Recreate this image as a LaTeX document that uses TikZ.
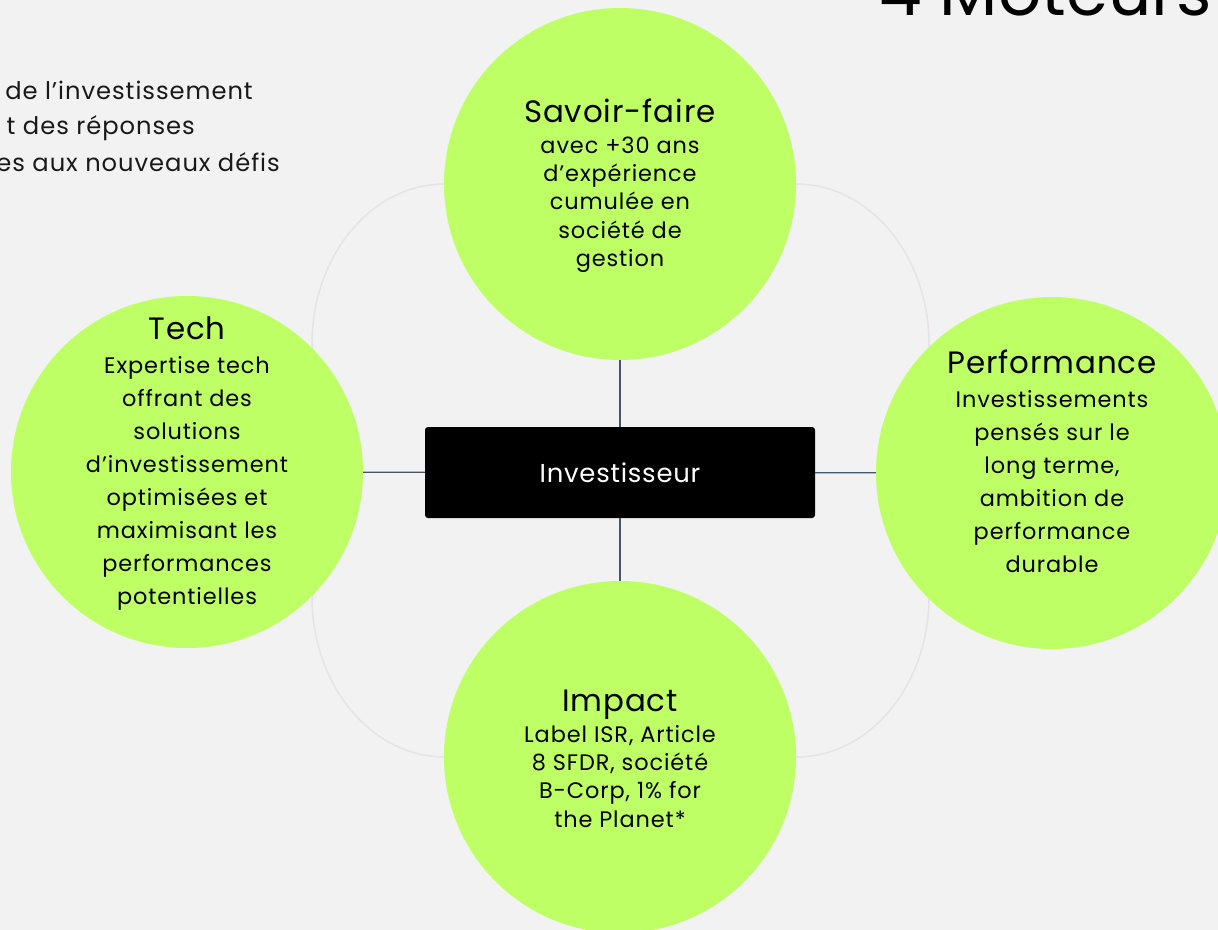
\documentclass[tikz,border=0pt]{standalone}
\usepackage{fontspec}
\setmainfont{Poppins}
\definecolor{bgc}{HTML}{F2F2F2}
\definecolor{lime}{HTML}{BFFF66}
\definecolor{slate}{HTML}{44546A}
\definecolor{ringc}{HTML}{E4E4E4}
\newcommand{\lspc}[1]{\addfontfeature{LetterSpace=#1}}
\tikzset{
  bubble/.style={circle, fill=lime, draw=none, minimum size=352bp, inner sep=0pt},
  hub/.style={rectangle, fill=black, rounded corners=3bp, minimum width=390bp, minimum height=91bp, inner sep=0pt, text=white, font=\fontsize{26}{30}\selectfont\lspc{3}},
  link/.style={draw=slate, line width=1.3bp},
  ring/.style={draw=ringc, line width=1.5bp},
  ttl/.style={anchor=base, inner sep=0pt, font=\fontsize{31}{36}\selectfont\lspc{3}},
  bodytext/.style={anchor=base, inner sep=0pt},
  intro/.style={anchor=base east, inner sep=0pt, font=\fontsize{24.3}{36}\selectfont\lspc{4}, text=black!90}
}
\newcommand{\bodyA}[1]{\fontsize{22.5}{28.6}\selectfont\lspc{4}\begin{tabular}[t]{@{}c@{}}#1\end{tabular}}
\newcommand{\bodyB}[1]{\fontsize{22.5}{33.2}\selectfont\lspc{4}\begin{tabular}[t]{@{}c@{}}#1\end{tabular}}
\begin{document}
\begin{tikzpicture}[x=1bp,y=-1bp]
\useasboundingbox (0,0) rectangle (1218,930);
\clip (0,0) rectangle (1218,930);
\fill[bgc] (0,0) rectangle (1218,930);
% faint ring behind the bubbles
\draw[ring] (445,184) -- (796,184)
  arc[start angle=270, end angle=360, x radius=133, y radius=160]
  -- (929,597)
  arc[start angle=0, end angle=90, x radius=133, y radius=160]
  -- (445,757)
  arc[start angle=90, end angle=180, x radius=133, y radius=160]
  -- (312,344)
  arc[start angle=180, end angle=270, x radius=133, y radius=160]
  -- cycle;
\node[bubble] (savoir) at (620,184) {};
\node[bubble] (tech) at (187,472) {};
\node[bubble] (perf) at (1052,473) {};
\node[bubble] (impact) at (620,757) {};
\node[hub] (inv) at (620,472.5) {Investisseur};
\draw[link] (savoir) -- (inv);
\draw[link] (inv) -- (impact);
\draw[link] (tech) -- (inv);
\draw[link] (inv) -- (perf);
% titles
\node[ttl] (savoirT) at (620,122) {Savoir-faire};
\node[ttl] (techT) at (187,339) {Tech};
\node[ttl] (perfT) at (1052,373) {Performance};
\node[ttl] (impactT) at (620,711) {Impact};
% bodies
\node[bodytext] (savoirB) at (620,153) {\bodyA{avec +30 ans\\d’expérience\\cumulée en\\société de\\gestion}};
\node[bodytext] (techB) at (187,373) {\bodyB{Expertise tech\\offrant des\\solutions\\d’investissement\\optimisées et\\maximisant les\\performances\\potentielles}};
\node[bodytext] (perfB) at (1052,407) {\bodyB{Investissements\\pensés sur le\\long terme,\\ambition de\\performance\\durable}};
\node[bodytext] (impactB) at (620,742) {\bodyA{Label ISR, Article\\8 SFDR, société\\B-Corp, 1\% for\\the Planet*}};
% intro text (cut by the left edge)
\node[intro] (intro1) at (253,99) {de l’investissement};
\node[intro] (intro2) at (195,134) {t des réponses};
\node[intro] (intro3) at (280,171) {es aux nouveaux défis};
% page title (cut by the top edge)
\node[anchor=base west, inner sep=0pt, font=\fontsize{68}{74}\selectfont] (title) at (879,15) {4 Moteurs};
\end{tikzpicture}
\end{document}
